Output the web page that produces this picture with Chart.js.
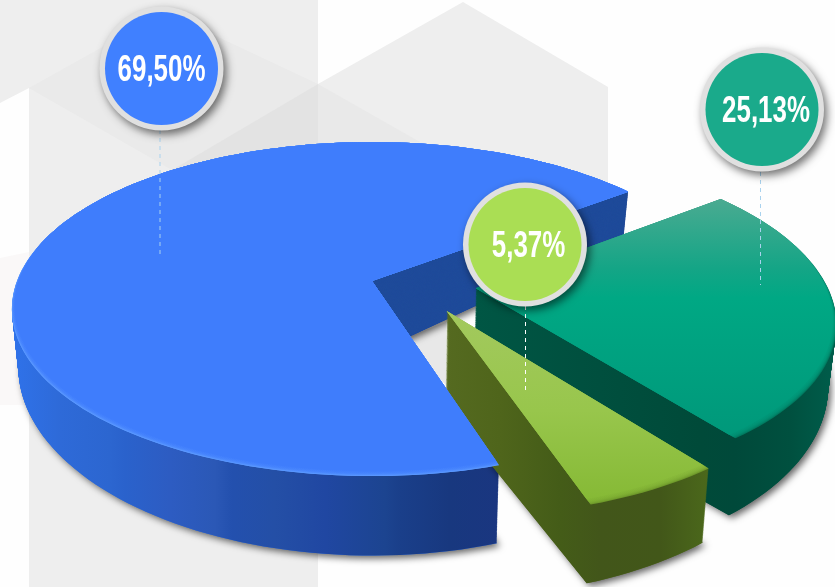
<!DOCTYPE html>
<html>
<head>
<meta charset="utf-8">
<title>Exploded pie</title>
<script src="https://cdn.jsdelivr.net/npm/chart.js@4"></script>
<style>
  html, body { margin: 0; padding: 0; background: #fff; }
  canvas { display: block; }
</style>
</head>
<body>
<canvas id="pie" width="835" height="587"></canvas>
<script>
// ── Data ──────────────────────────────────────────────────────────────────────
const sliceValues = [69.50, 25.13, 5.37];
const sliceLabels = ["69,50%", "25,13%", "5,37%"];
const sliceColors = ["#3f7dfc", "#00a884", "#8fbf3f"];

// ── Look of the slices (camera plane units, not data) ─────────────────────────
const sliceLook = [
  { shift: [0, 0], scale: 1, rimDepth: 55, apexDepth: 73, bevel: "#5a98ff", bevelAmt: 0.02,
    top: [[0, "#3f7dfc"], [1, "#3f7dfc"]], topRange: [140, 490],
    shadow: [[12, "#2f72ea"], [60, "#2e6ad8"], [110, "#2c66d0"], [125, "#2a62cc"], [170, "#2d5cc2"],
             [215, "#2b58b6"], [232, "#2350ae"], [275, "#244fa6"], [325, "#2047a2"], [385, "#1c4490"],
             [400, "#1a3f8a"], [450, "#18387f"], [498, "#1a3680"]] },
  { shift: [0.29, 0.045], scale: 0.985, rimDepth: 57, apexDepth: 84, bevel: "#007a60", bevelAmt: 0.025,
    top: [[0, "#4dab92"], [0.3, "#14a586"], [0.42, "#00a884"], [1, "#00987a"]], topRange: [195, 440],
    shadow: [[476, "#005644"], [600, "#004f3e"], [700, "#004a39"], [735, "#00493a"], [790, "#00503f"], [835, "#005d4b"]] },
  { shift: [0.204, 0.179], scale: 0.985, rimDepth: 52, apexDepth: 97, bevel: "#6f9a2b", bevelAmt: 0.025,
    top: [[0, "#a3c95e"], [0.5, "#98c64c"], [1, "#84b833"]], topRange: [311, 510],
    shadow: [[445, "#556a20"], [500, "#4f651b"], [560, "#445c18"], [600, "#42561a"], [660, "#425719"], [708, "#4b681b"]] },
];

const callouts = [
  { x: 161.5, y: 68.5, fill: "#4080ff", textDx: 0, leaderX: 159.5, leader: [130, 258], dash: "#a9d2ee" },
  { x: 762,   y: 109.5, fill: "#1aaa8b", textDx: 4, leaderX: 760,  leader: [172, 285], dash: "#a9d2ee" },
  { x: 525,   y: 244.5, fill: "#aade54", textDx: 3.5, leaderX: 525,  leader: [306, 392], dash: "#ffffff" },
];

// ── Perspective: flat pie plane → screen ──────────────────────────────────────
const CAM = { x: 372, y: 281, sx: 355, sy: 162.3, tilt: -0.168, squeeze: 0.018 };

function screenPoint(u, v, z, radial, look) {
  const w = 1 + CAM.tilt * v;
  let x = CAM.x + CAM.sx * u / w;
  const y = CAM.y + CAM.sy * v / w;
  const drop = (1 - radial) * look.apexDepth + radial * look.rimDepth / (w * w);
  x = CAM.x + (x - CAM.x) * (1 - CAM.squeeze * z);
  return [x, y + drop * z];
}

// Hands ArcElement.draw a ctx whose path calls go through the perspective
function projectedPen(ctx, arc, look, z, bevel) {
  const R = arc.outerRadius;
  const put = (px, py) => {
    const radial = Math.min(1, Math.hypot(px - arc.x, py - arc.y) / R);
    const n = (py - arc.y) / R;
    const f = look.scale * (1 - bevel * Math.max(0, n + 0.3) / 1.3);
    const u = look.shift[0] + f * (px - arc.x) / R;
    const v = look.shift[1] + f * n;
    const [sx, sy] = screenPoint(u, v, z, radial, look);
    ctx.lineTo(sx, sy);
  };
  return {
    beginPath() { ctx.beginPath(); },
    closePath() { ctx.closePath(); },
    moveTo: put,
    lineTo: put,
    arc(cx, cy, r, a0, a1) {
      const steps = Math.max(2, Math.ceil(Math.abs(a1 - a0) / 0.03));
      for (let i = 0; i <= steps; i++) {
        const a = a0 + (a1 - a0) * i / steps;
        put(cx + r * Math.cos(a), cy + r * Math.sin(a));
      }
    },
    fill() { ctx.fill(); },
    clip() { ctx.clip(); },
    stroke() {}, save() {}, restore() {}, translate() {}, setLineDash() {},
  };
}

function xGradient(ctx, stops) {
  const x0 = stops[0][0], x1 = stops[stops.length - 1][0];
  const g = ctx.createLinearGradient(x0, 0, x1, 0);
  stops.forEach(s => g.addColorStop((s[0] - x0) / (x1 - x0), s[1]));
  return g;
}

function drawSides(ctx, arc, look, paint) {
  ctx.fillStyle = paint;
  for (let z = 1; z > 0; z -= 0.01) arc.draw(projectedPen(ctx, arc, look, z, 0));
}

function drawSlideShadow(ctx, arc, look) {
  ctx.save();
  ctx.shadowColor = "rgba(0,0,0,0.6)";
  ctx.shadowBlur = 7;
  ctx.shadowOffsetX = 3;
  ctx.shadowOffsetY = 3;
  ctx.fillStyle = look.shadow[0][1];
  arc.draw(projectedPen(ctx, arc, look, 1, 0));
  ctx.restore();
}

// Bevel colour on the front rim, fading into the face over a few steps
function drawTop(ctx, arc, look) {
  const g = ctx.createLinearGradient(0, look.topRange[0], 0, look.topRange[1]);
  look.top.forEach(s => g.addColorStop(s[0], s[1]));
  ctx.save();
  ctx.fillStyle = look.bevel;
  arc.draw(projectedPen(ctx, arc, look, 0, 0));
  ctx.fillStyle = g;
  const steps = 6;
  for (let k = 1; k <= steps; k++) {
    ctx.globalAlpha = k === steps ? 1 : 0.35;
    arc.draw(projectedPen(ctx, arc, look, 0, look.bevelAmt * k / steps));
  }
  ctx.restore();
}

// ── Plugins ───────────────────────────────────────────────────────────────────
const backdrop = {
  id: "backdrop",
  beforeDraw(chart) {
    const ctx = chart.ctx;
    const poly = (color, pts) => {
      ctx.fillStyle = color;
      ctx.beginPath();
      pts.forEach((p, i) => i ? ctx.lineTo(p[0], p[1]) : ctx.moveTo(p[0], p[1]));
      ctx.closePath();
      ctx.fill();
    };
    ctx.fillStyle = "#fefefe";
    ctx.fillRect(0, 0, 835, 587);
    poly("#faf8f8", [[0, 258], [29, 252], [29, 405], [0, 405]]);
    poly("#eeeeee", [[0, 0], [318, 0], [318, 587], [29, 587], [29, 88], [0, 103]]);
    poly("#eeeeee", [[318, 84], [463, 2], [608, 87], [608, 240], [318, 240]]);
    poly("#eaeaea", [[29, 88], [165, 12], [318, 84], [172, 170]]);
    poly("#e9e9e9", [[318, 84], [420, 142], [318, 145]]);
    poly("#e3e3e3", [[318, 84], [318, 145], [172, 170]]);
    poly("#e8e8e8", [[400, 340], [446, 322], [446, 385]]);
  },
};

const slices3d = {
  id: "slices3d",
  beforeDatasetDraw() { return false; }, // default flat arcs are replaced below
  afterDatasetsDraw(chart) {
    const ctx = chart.ctx;
    const arcs = chart.getDatasetMeta(0).data;

    arcs.forEach((arc, i) => {
      const look = sliceLook[i];
      drawSlideShadow(ctx, arc, look);
      drawSides(ctx, arc, look, xGradient(ctx, look.shadow));
      if (i === 0) {
        // notch face of the big slice is a flat dark blue
        ctx.save();
        ctx.beginPath();
        ctx.rect(CAM.x, 0, 300, 400);
        ctx.clip();
        drawSides(ctx, arc, look, "#1f4b9a");
        ctx.restore();
      }
      drawTop(ctx, arc, look);
    });
    // big slice's top lies over the narrow slice's side
    drawTop(ctx, arcs[0], sliceLook[0]);
  },
};

const callout = {
  id: "callout",
  afterDraw(chart) {
    const ctx = chart.ctx;
    callouts.forEach((c, i) => {
      ctx.save();
      ctx.strokeStyle = c.dash;
      ctx.lineWidth = 1;
      ctx.setLineDash([4, 4]);
      ctx.beginPath();
      ctx.moveTo(c.leaderX + 0.5, c.leader[0]);
      ctx.lineTo(c.leaderX + 0.5, c.leader[1]);
      ctx.stroke();
      ctx.restore();

      ctx.save();
      ctx.shadowColor = "rgba(0,0,0,0.55)";
      ctx.shadowBlur = 8;
      ctx.shadowOffsetX = 3;
      ctx.shadowOffsetY = 4;
      ctx.fillStyle = "#e0e0e0";
      ctx.beginPath();
      ctx.arc(c.x, c.y, 62, 0, Math.PI * 2);
      ctx.fill();
      ctx.restore();

      ctx.fillStyle = c.fill;
      ctx.beginPath();
      ctx.arc(c.x, c.y, 56.5, 0, Math.PI * 2);
      ctx.fill();

      ctx.save();
      ctx.translate(c.x + c.textDx, c.y + 2.5);
      ctx.scale(0.7, 1);
      ctx.font = "bold 37px 'Liberation Sans'";
      ctx.fillStyle = "#fff";
      ctx.textAlign = "center";
      ctx.textBaseline = "middle";
      ctx.fillText(sliceLabels[i], 0, 0);
      ctx.restore();
    });
  },
};

new Chart(document.getElementById("pie"), {
  type: "pie",
  data: {
    labels: sliceLabels,
    datasets: [{ data: sliceValues, backgroundColor: sliceColors, borderWidth: 0 }],
  },
  options: {
    responsive: false,
    animation: false,
    rotation: 162.5,
    plugins: { legend: { display: false }, tooltip: { enabled: false } },
  },
  plugins: [backdrop, slices3d, callout],
});
</script>
</body>
</html>
